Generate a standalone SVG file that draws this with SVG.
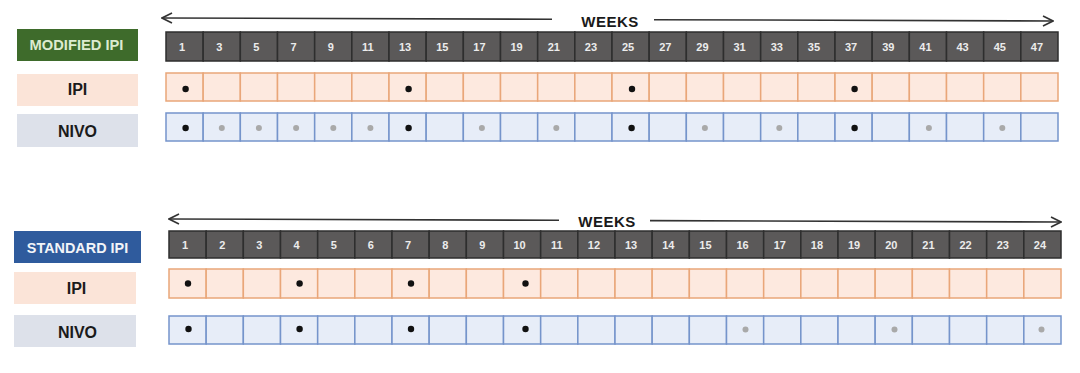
<svg xmlns="http://www.w3.org/2000/svg" width="1080" height="373" viewBox="0 0 1080 373">
<style>
.hd{fill:#5b5959;stroke:#2e2e2e;stroke-width:1.5}
.ht{font-family:"Liberation Sans",Arial,sans-serif;font-weight:bold;font-size:11px;fill:#ececec;text-anchor:middle}
.ip{fill:#fde9df;stroke:#e9a679;stroke-width:1.5}
.nv{fill:#e7edf8;stroke:#7594cb;stroke-width:1.5}
.lt{font-family:"Liberation Sans",Arial,sans-serif;font-weight:bold;text-anchor:middle}
.bd{fill:#111}
.gd{fill:#a9a9a9}
.ax{stroke:#333;stroke-width:1.6;fill:none}
.wk{font-family:"Liberation Sans",Arial,sans-serif;font-weight:bold;font-size:15px;fill:#1a1a1a;text-anchor:middle;letter-spacing:0.5px}
</style>
<defs>
<marker id="ah" viewBox="0 0 12 12" refX="11" refY="6" markerWidth="12" markerHeight="12" markerUnits="userSpaceOnUse" orient="auto-start-reverse">
<path d="M1,1 L11,6 L1,11" fill="none" stroke="#333" stroke-width="1.6"/>
</marker>
</defs>
<rect width="1080" height="373" fill="#ffffff"/>

<g id="connectors">
<line class="ax" x1="162" y1="18" x2="552" y2="19.3" marker-start="url(#ah)"/>
<line class="ax" x1="654" y1="19.7" x2="1053" y2="21" marker-end="url(#ah)"/>
<text class="wk" x="610" y="27">WEEKS</text>
<line class="ax" x1="169" y1="219" x2="559" y2="220.3" marker-start="url(#ah)"/>
<line class="ax" x1="650" y1="220.6" x2="1061" y2="222" marker-end="url(#ah)"/>
<text class="wk" x="607" y="227">WEEKS</text>
</g>

<g id="label-modified">
<rect x="17" y="29" width="121" height="32" fill="#3e6b2b"/>
<text class="lt" x="76.5" y="49.5" font-size="14.7" fill="#dcebd0">MODIFIED IPI</text>
</g>
<g id="label-ipi-top">
<rect x="17" y="74" width="121" height="32" fill="#fbe4d8"/>
<text class="lt" x="77.5" y="95" font-size="16" fill="#1a1a1a">IPI</text>
</g>
<g id="label-nivo-top">
<rect x="17" y="114" width="121" height="33" fill="#dde1ea"/>
<text class="lt" x="77.5" y="136.5" font-size="16" fill="#1a1a1a">NIVO</text>
</g>
<g id="label-standard">
<rect x="14" y="231" width="127" height="32" fill="#2f5b9d"/>
<text class="lt" x="77.5" y="252.5" font-size="14.4" fill="#f2f4f8">STANDARD IPI</text>
</g>
<g id="label-ipi-bot">
<rect x="14" y="272" width="122" height="32" fill="#fbe4d8"/>
<text class="lt" x="76.5" y="294" font-size="16" fill="#1a1a1a">IPI</text>
</g>
<g id="label-nivo-bot">
<rect x="14" y="315" width="122" height="32" fill="#dde1ea"/>
<text class="lt" x="77.5" y="337.5" font-size="16" fill="#1a1a1a">NIVO</text>
</g>

<g id="top-header">
<rect class="hd" x="166" y="32" width="37.17" height="29"/>
<rect class="hd" x="203.17" y="32" width="37.17" height="29"/>
<rect class="hd" x="240.33" y="32" width="37.17" height="29"/>
<rect class="hd" x="277.5" y="32" width="37.17" height="29"/>
<rect class="hd" x="314.67" y="32" width="37.17" height="29"/>
<rect class="hd" x="351.83" y="32" width="37.17" height="29"/>
<rect class="hd" x="389" y="32" width="37.17" height="29"/>
<rect class="hd" x="426.17" y="32" width="37.17" height="29"/>
<rect class="hd" x="463.33" y="32" width="37.17" height="29"/>
<rect class="hd" x="500.5" y="32" width="37.17" height="29"/>
<rect class="hd" x="537.67" y="32" width="37.17" height="29"/>
<rect class="hd" x="574.83" y="32" width="37.17" height="29"/>
<rect class="hd" x="612" y="32" width="37.17" height="29"/>
<rect class="hd" x="649.17" y="32" width="37.17" height="29"/>
<rect class="hd" x="686.33" y="32" width="37.17" height="29"/>
<rect class="hd" x="723.5" y="32" width="37.17" height="29"/>
<rect class="hd" x="760.67" y="32" width="37.17" height="29"/>
<rect class="hd" x="797.83" y="32" width="37.17" height="29"/>
<rect class="hd" x="835" y="32" width="37.17" height="29"/>
<rect class="hd" x="872.17" y="32" width="37.17" height="29"/>
<rect class="hd" x="909.33" y="32" width="37.17" height="29"/>
<rect class="hd" x="946.5" y="32" width="37.17" height="29"/>
<rect class="hd" x="983.67" y="32" width="37.17" height="29"/>
<rect class="hd" x="1020.83" y="32" width="37.17" height="29"/>
<text class="ht" x="182.1" y="50.5">1</text>
<text class="ht" x="219.3" y="50.5">3</text>
<text class="ht" x="256.4" y="50.5">5</text>
<text class="ht" x="293.6" y="50.5">7</text>
<text class="ht" x="330.8" y="50.5">9</text>
<text class="ht" x="367.9" y="50.5">11</text>
<text class="ht" x="405.1" y="50.5">13</text>
<text class="ht" x="442.3" y="50.5">15</text>
<text class="ht" x="479.4" y="50.5">17</text>
<text class="ht" x="516.6" y="50.5">19</text>
<text class="ht" x="553.8" y="50.5">21</text>
<text class="ht" x="590.9" y="50.5">23</text>
<text class="ht" x="628.1" y="50.5">25</text>
<text class="ht" x="665.3" y="50.5">27</text>
<text class="ht" x="702.4" y="50.5">29</text>
<text class="ht" x="739.6" y="50.5">31</text>
<text class="ht" x="776.8" y="50.5">33</text>
<text class="ht" x="813.9" y="50.5">35</text>
<text class="ht" x="851.1" y="50.5">37</text>
<text class="ht" x="888.3" y="50.5">39</text>
<text class="ht" x="925.4" y="50.5">41</text>
<text class="ht" x="962.6" y="50.5">43</text>
<text class="ht" x="999.8" y="50.5">45</text>
<text class="ht" x="1036.9" y="50.5">47</text>
</g>

<g id="top-ipi-row">
<rect class="ip" x="166" y="73" width="37.17" height="28"/>
<rect class="ip" x="203.17" y="73" width="37.17" height="28"/>
<rect class="ip" x="240.33" y="73" width="37.17" height="28"/>
<rect class="ip" x="277.5" y="73" width="37.17" height="28"/>
<rect class="ip" x="314.67" y="73" width="37.17" height="28"/>
<rect class="ip" x="351.83" y="73" width="37.17" height="28"/>
<rect class="ip" x="389" y="73" width="37.17" height="28"/>
<rect class="ip" x="426.17" y="73" width="37.17" height="28"/>
<rect class="ip" x="463.33" y="73" width="37.17" height="28"/>
<rect class="ip" x="500.5" y="73" width="37.17" height="28"/>
<rect class="ip" x="537.67" y="73" width="37.17" height="28"/>
<rect class="ip" x="574.83" y="73" width="37.17" height="28"/>
<rect class="ip" x="612" y="73" width="37.17" height="28"/>
<rect class="ip" x="649.17" y="73" width="37.17" height="28"/>
<rect class="ip" x="686.33" y="73" width="37.17" height="28"/>
<rect class="ip" x="723.5" y="73" width="37.17" height="28"/>
<rect class="ip" x="760.67" y="73" width="37.17" height="28"/>
<rect class="ip" x="797.83" y="73" width="37.17" height="28"/>
<rect class="ip" x="835" y="73" width="37.17" height="28"/>
<rect class="ip" x="872.17" y="73" width="37.17" height="28"/>
<rect class="ip" x="909.33" y="73" width="37.17" height="28"/>
<rect class="ip" x="946.5" y="73" width="37.17" height="28"/>
<rect class="ip" x="983.67" y="73" width="37.17" height="28"/>
<rect class="ip" x="1020.83" y="73" width="37.17" height="28"/>
<circle class="bd" cx="185.6" cy="89" r="3.2"/>
<circle class="bd" cx="408.6" cy="89" r="3.2"/>
<circle class="bd" cx="632" cy="89" r="3.2"/>
<circle class="bd" cx="854.6" cy="89" r="3.2"/>
</g>

<g id="top-nivo-row">
<rect class="nv" x="166" y="113" width="37.17" height="28"/>
<rect class="nv" x="203.17" y="113" width="37.17" height="28"/>
<rect class="nv" x="240.33" y="113" width="37.17" height="28"/>
<rect class="nv" x="277.5" y="113" width="37.17" height="28"/>
<rect class="nv" x="314.67" y="113" width="37.17" height="28"/>
<rect class="nv" x="351.83" y="113" width="37.17" height="28"/>
<rect class="nv" x="389" y="113" width="37.17" height="28"/>
<rect class="nv" x="426.17" y="113" width="37.17" height="28"/>
<rect class="nv" x="463.33" y="113" width="37.17" height="28"/>
<rect class="nv" x="500.5" y="113" width="37.17" height="28"/>
<rect class="nv" x="537.67" y="113" width="37.17" height="28"/>
<rect class="nv" x="574.83" y="113" width="37.17" height="28"/>
<rect class="nv" x="612" y="113" width="37.17" height="28"/>
<rect class="nv" x="649.17" y="113" width="37.17" height="28"/>
<rect class="nv" x="686.33" y="113" width="37.17" height="28"/>
<rect class="nv" x="723.5" y="113" width="37.17" height="28"/>
<rect class="nv" x="760.67" y="113" width="37.17" height="28"/>
<rect class="nv" x="797.83" y="113" width="37.17" height="28"/>
<rect class="nv" x="835" y="113" width="37.17" height="28"/>
<rect class="nv" x="872.17" y="113" width="37.17" height="28"/>
<rect class="nv" x="909.33" y="113" width="37.17" height="28"/>
<rect class="nv" x="946.5" y="113" width="37.17" height="28"/>
<rect class="nv" x="983.67" y="113" width="37.17" height="28"/>
<rect class="nv" x="1020.83" y="113" width="37.17" height="28"/>
<circle class="bd" cx="185.6" cy="128" r="3.2"/>
<circle class="gd" cx="221.8" cy="128" r="3"/>
<circle class="gd" cx="258.9" cy="128" r="3"/>
<circle class="gd" cx="296.1" cy="128" r="3"/>
<circle class="gd" cx="333.3" cy="128" r="3"/>
<circle class="gd" cx="370.4" cy="128" r="3"/>
<circle class="bd" cx="408.6" cy="128" r="3.2"/>
<circle class="gd" cx="481.9" cy="128" r="3"/>
<circle class="gd" cx="556.3" cy="128" r="3"/>
<circle class="bd" cx="631.6" cy="128" r="3.2"/>
<circle class="gd" cx="704.9" cy="128" r="3"/>
<circle class="gd" cx="779.3" cy="128" r="3"/>
<circle class="bd" cx="854.6" cy="128" r="3.2"/>
<circle class="gd" cx="928.9" cy="128" r="3"/>
<circle class="gd" cx="1002.3" cy="128" r="3"/>
</g>

<g id="bottom-header">
<rect class="hd" x="169" y="231" width="37.17" height="27"/>
<rect class="hd" x="206.17" y="231" width="37.17" height="27"/>
<rect class="hd" x="243.33" y="231" width="37.17" height="27"/>
<rect class="hd" x="280.5" y="231" width="37.17" height="27"/>
<rect class="hd" x="317.67" y="231" width="37.17" height="27"/>
<rect class="hd" x="354.83" y="231" width="37.17" height="27"/>
<rect class="hd" x="392" y="231" width="37.17" height="27"/>
<rect class="hd" x="429.17" y="231" width="37.17" height="27"/>
<rect class="hd" x="466.33" y="231" width="37.17" height="27"/>
<rect class="hd" x="503.5" y="231" width="37.17" height="27"/>
<rect class="hd" x="540.67" y="231" width="37.17" height="27"/>
<rect class="hd" x="577.83" y="231" width="37.17" height="27"/>
<rect class="hd" x="615" y="231" width="37.17" height="27"/>
<rect class="hd" x="652.17" y="231" width="37.17" height="27"/>
<rect class="hd" x="689.33" y="231" width="37.17" height="27"/>
<rect class="hd" x="726.5" y="231" width="37.17" height="27"/>
<rect class="hd" x="763.67" y="231" width="37.17" height="27"/>
<rect class="hd" x="800.83" y="231" width="37.17" height="27"/>
<rect class="hd" x="838" y="231" width="37.17" height="27"/>
<rect class="hd" x="875.17" y="231" width="37.17" height="27"/>
<rect class="hd" x="912.33" y="231" width="37.17" height="27"/>
<rect class="hd" x="949.5" y="231" width="37.17" height="27"/>
<rect class="hd" x="986.67" y="231" width="37.17" height="27"/>
<rect class="hd" x="1023.83" y="231" width="37.17" height="27"/>
<text class="ht" x="185.1" y="248.5">1</text>
<text class="ht" x="222.3" y="248.5">2</text>
<text class="ht" x="259.4" y="248.5">3</text>
<text class="ht" x="296.6" y="248.5">4</text>
<text class="ht" x="333.8" y="248.5">5</text>
<text class="ht" x="370.9" y="248.5">6</text>
<text class="ht" x="408.1" y="248.5">7</text>
<text class="ht" x="445.3" y="248.5">8</text>
<text class="ht" x="482.4" y="248.5">9</text>
<text class="ht" x="519.6" y="248.5">10</text>
<text class="ht" x="556.8" y="248.5">11</text>
<text class="ht" x="593.9" y="248.5">12</text>
<text class="ht" x="631.1" y="248.5">13</text>
<text class="ht" x="668.3" y="248.5">14</text>
<text class="ht" x="705.4" y="248.5">15</text>
<text class="ht" x="742.6" y="248.5">16</text>
<text class="ht" x="779.8" y="248.5">17</text>
<text class="ht" x="816.9" y="248.5">18</text>
<text class="ht" x="854.1" y="248.5">19</text>
<text class="ht" x="891.3" y="248.5">20</text>
<text class="ht" x="928.4" y="248.5">21</text>
<text class="ht" x="965.6" y="248.5">22</text>
<text class="ht" x="1002.8" y="248.5">23</text>
<text class="ht" x="1039.9" y="248.5">24</text>
</g>

<g id="bottom-ipi-row">
<rect class="ip" x="169" y="269" width="37.17" height="29"/>
<rect class="ip" x="206.17" y="269" width="37.17" height="29"/>
<rect class="ip" x="243.33" y="269" width="37.17" height="29"/>
<rect class="ip" x="280.5" y="269" width="37.17" height="29"/>
<rect class="ip" x="317.67" y="269" width="37.17" height="29"/>
<rect class="ip" x="354.83" y="269" width="37.17" height="29"/>
<rect class="ip" x="392" y="269" width="37.17" height="29"/>
<rect class="ip" x="429.17" y="269" width="37.17" height="29"/>
<rect class="ip" x="466.33" y="269" width="37.17" height="29"/>
<rect class="ip" x="503.5" y="269" width="37.17" height="29"/>
<rect class="ip" x="540.67" y="269" width="37.17" height="29"/>
<rect class="ip" x="577.83" y="269" width="37.17" height="29"/>
<rect class="ip" x="615" y="269" width="37.17" height="29"/>
<rect class="ip" x="652.17" y="269" width="37.17" height="29"/>
<rect class="ip" x="689.33" y="269" width="37.17" height="29"/>
<rect class="ip" x="726.5" y="269" width="37.17" height="29"/>
<rect class="ip" x="763.67" y="269" width="37.17" height="29"/>
<rect class="ip" x="800.83" y="269" width="37.17" height="29"/>
<rect class="ip" x="838" y="269" width="37.17" height="29"/>
<rect class="ip" x="875.17" y="269" width="37.17" height="29"/>
<rect class="ip" x="912.33" y="269" width="37.17" height="29"/>
<rect class="ip" x="949.5" y="269" width="37.17" height="29"/>
<rect class="ip" x="986.67" y="269" width="37.17" height="29"/>
<rect class="ip" x="1023.83" y="269" width="37.17" height="29"/>
<circle class="bd" cx="188" cy="283.5" r="3.2"/>
<circle class="bd" cx="299.6" cy="283.5" r="3.2"/>
<circle class="bd" cx="411" cy="283.5" r="3.2"/>
<circle class="bd" cx="525.5" cy="283.5" r="3.2"/>
</g>

<g id="bottom-nivo-row">
<rect class="nv" x="169" y="316" width="37.17" height="28"/>
<rect class="nv" x="206.17" y="316" width="37.17" height="28"/>
<rect class="nv" x="243.33" y="316" width="37.17" height="28"/>
<rect class="nv" x="280.5" y="316" width="37.17" height="28"/>
<rect class="nv" x="317.67" y="316" width="37.17" height="28"/>
<rect class="nv" x="354.83" y="316" width="37.17" height="28"/>
<rect class="nv" x="392" y="316" width="37.17" height="28"/>
<rect class="nv" x="429.17" y="316" width="37.17" height="28"/>
<rect class="nv" x="466.33" y="316" width="37.17" height="28"/>
<rect class="nv" x="503.5" y="316" width="37.17" height="28"/>
<rect class="nv" x="540.67" y="316" width="37.17" height="28"/>
<rect class="nv" x="577.83" y="316" width="37.17" height="28"/>
<rect class="nv" x="615" y="316" width="37.17" height="28"/>
<rect class="nv" x="652.17" y="316" width="37.17" height="28"/>
<rect class="nv" x="689.33" y="316" width="37.17" height="28"/>
<rect class="nv" x="726.5" y="316" width="37.17" height="28"/>
<rect class="nv" x="763.67" y="316" width="37.17" height="28"/>
<rect class="nv" x="800.83" y="316" width="37.17" height="28"/>
<rect class="nv" x="838" y="316" width="37.17" height="28"/>
<rect class="nv" x="875.17" y="316" width="37.17" height="28"/>
<rect class="nv" x="912.33" y="316" width="37.17" height="28"/>
<rect class="nv" x="949.5" y="316" width="37.17" height="28"/>
<rect class="nv" x="986.67" y="316" width="37.17" height="28"/>
<rect class="nv" x="1023.83" y="316" width="37.17" height="28"/>
<circle class="bd" cx="188.5" cy="329" r="3.2"/>
<circle class="bd" cx="299.6" cy="329" r="3.2"/>
<circle class="bd" cx="411" cy="329" r="3.2"/>
<circle class="bd" cx="525.5" cy="329" r="3.2"/>
<circle class="gd" cx="745.5" cy="329.5" r="3"/>
<circle class="gd" cx="894.5" cy="329.5" r="3"/>
<circle class="gd" cx="1041.5" cy="329.5" r="3"/>
</g>
</svg>
